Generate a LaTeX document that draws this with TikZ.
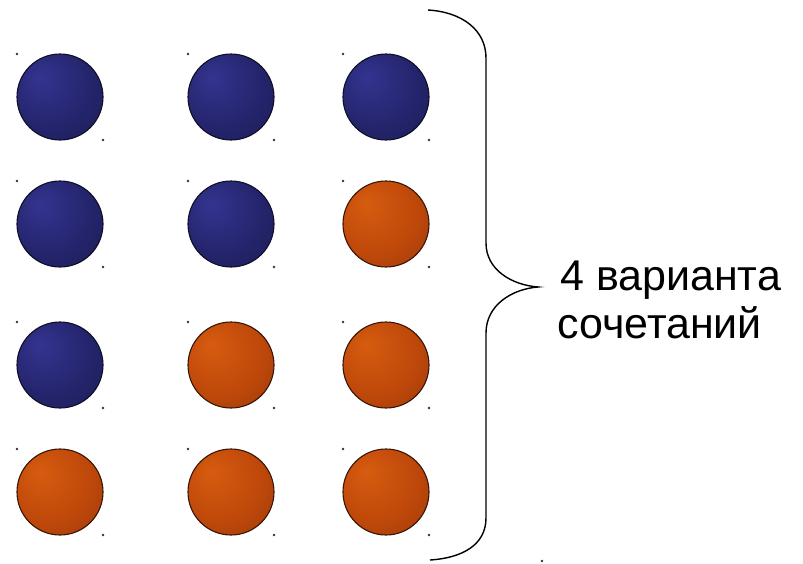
\documentclass[tikz,border=0pt]{standalone}
\usepackage{fontspec}
\setmainfont{Liberation Sans}
\definecolor{bhl}{RGB}{52,52,145}
\definecolor{bmid}{RGB}{36,36,108}
\definecolor{bedge}{RGB}{24,24,74}
\definecolor{bline}{RGB}{15,15,40}
\definecolor{ohl}{RGB}{215,92,16}
\definecolor{omid}{RGB}{190,72,10}
\definecolor{oedge}{RGB}{140,50,10}
\definecolor{oline}{RGB}{55,22,8}
\pgfdeclareradialshading{blueball}{\pgfpoint{-12bp}{12bp}}{color(0bp)=(bhl); color(25bp)=(bmid); color(50bp)=(bedge); color(60bp)=(bedge)}
\pgfdeclareradialshading{orangeball}{\pgfpoint{-12bp}{12bp}}{color(0bp)=(ohl); color(25bp)=(omid); color(50bp)=(oedge); color(60bp)=(oedge)}
\tikzset{
  bball/.style={circle, minimum size=86pt, inner sep=0pt, shading=blueball, draw=bline, line width=1.1pt},
  oball/.style={circle, minimum size=86pt, inner sep=0pt, shading=orangeball, draw=oline, line width=1.1pt},
  hdot/.style={fill=black!80, circle, inner sep=0pt, minimum size=2.6pt},
  bracepath/.style={line width=1.4pt, black},
  lbl/.style={anchor=base west, inner sep=0pt, font=\fontsize{43}{48}\selectfont}
}
\begin{document}
\begin{tikzpicture}[x=1pt,y=1pt]
\useasboundingbox[fill=white] (0,0) rectangle (803,-563);
% balls
\foreach \name/\cx/\cy/\st in {
  a1/60/97/bball, a2/231/97/bball, a3/386/97/bball,
  b1/60/224/bball, b2/231/224/bball, b3/386/224/oball,
  c1/60/365/bball, c2/231/365/oball, c3/386/365/oball,
  d1/60/492/oball, d2/231/492/oball, d3/386/492/oball}{
  \node[\st] (\name) at (\cx,-\cy) {};
  \node[hdot] (\name tl) at (\cx-43,-\cy+43) {};
  \node[hdot] (\name br) at (\cx+43,-\cy-43) {};
}
\node[hdot] (extra) at (542,-561) {};
% brace
\coordinate (btop) at (428,-10);
\coordinate (bu1) at (486,-58);
\coordinate (bu2) at (486,-243);
\coordinate (tip) at (538,-287);
\coordinate (bl1) at (486,-333);
\coordinate (bl2) at (486,-518);
\coordinate (bbot) at (430,-560);
\draw[bracepath] (btop) .. controls (462,-12) and (486,-30) .. (bu1)
  -- (bu2) .. controls (486,-270) and (512,-285) .. (tip)
  .. controls (512,-289) and (486,-305) .. (bl1)
  -- (bl2) .. controls (486,-545) and (462,-558) .. (bbot);
% label
\node[lbl] (l1) at (560,-290) {4 варианта};
\node[lbl] (l2) at (557,-338) {сочетаний};
\end{tikzpicture}
\end{document}
